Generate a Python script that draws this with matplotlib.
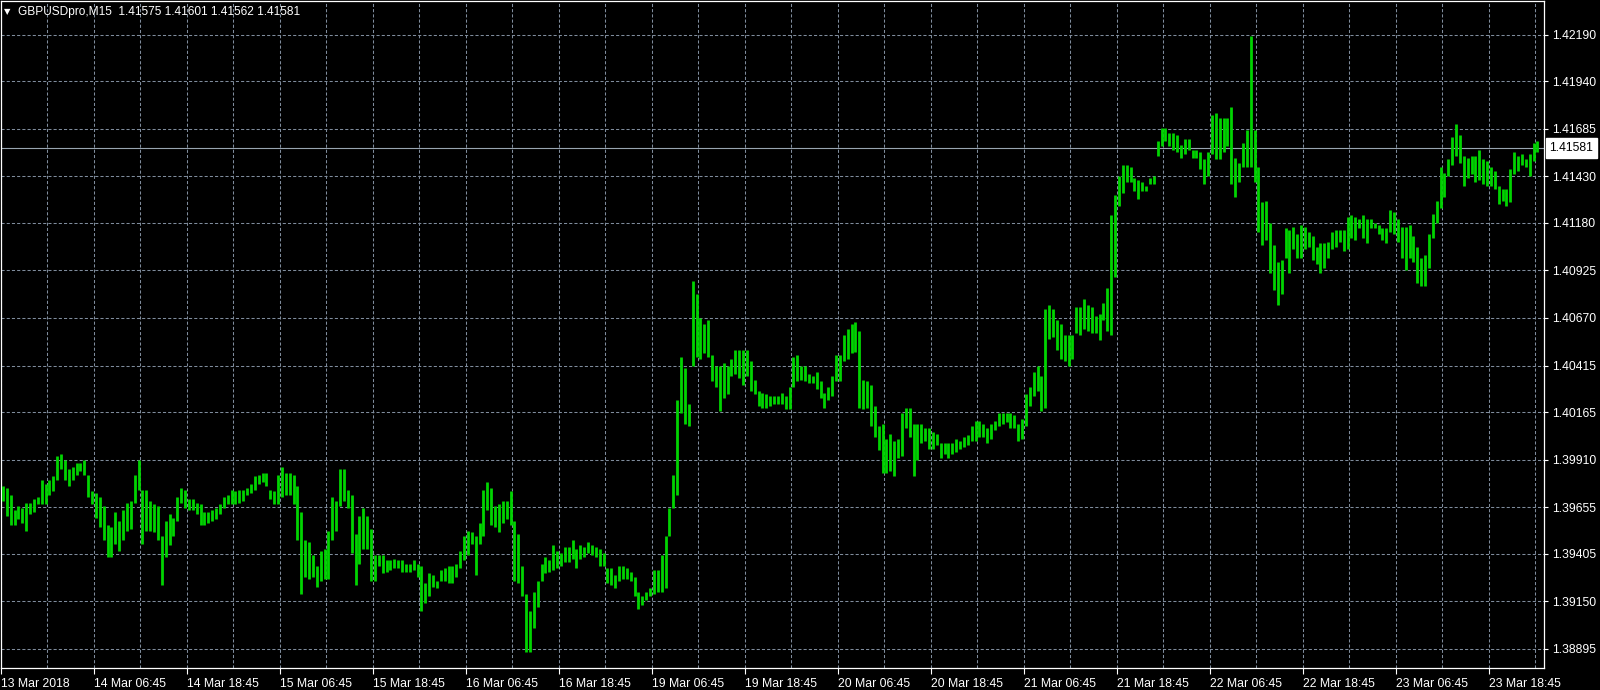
import numpy as np
import matplotlib
matplotlib.use("Agg")
import matplotlib.pyplot as plt

symbol = "GBPUSDpro,M15"
last_ohlc = [1.41575, 1.41601, 1.41562, 1.41581]
last_price = 1.41581

# 30-minute high / low (13 Mar 18:45 -> 23 Mar close)
high = [
    1.3977, 1.3976, 1.3972, 1.3964, 1.3966, 1.3965, 1.3968, 1.3968, 1.3970, 1.3971, 1.3980, 1.3978,
    1.3980, 1.3982, 1.3993, 1.3994, 1.3991, 1.3986, 1.3987, 1.3989, 1.3989, 1.3991, 1.3983, 1.3974,
    1.3973, 1.3971, 1.3966, 1.3956, 1.3955, 1.3963, 1.3958, 1.3964, 1.3968, 1.3969, 1.3983, 1.3991,
    1.3975, 1.3975, 1.3969, 1.3967, 1.3966, 1.3950, 1.3958, 1.3962, 1.3960, 1.3971, 1.3976, 1.3975,
    1.3970, 1.3970, 1.3968, 1.3967, 1.3963, 1.3963, 1.3964, 1.3965, 1.3967, 1.3971, 1.3972, 1.3975,
    1.3974, 1.3975, 1.3975, 1.3976, 1.3978, 1.3982, 1.3983, 1.3984, 1.3984, 1.3975, 1.3974, 1.3983,
    1.3987, 1.3984, 1.3984, 1.3983, 1.3977, 1.3963, 1.3948, 1.3947, 1.3940, 1.3934, 1.3942, 1.3943,
    1.3953, 1.3971, 1.3969, 1.3986, 1.3986, 1.3975, 1.3972, 1.3951, 1.3961, 1.3965, 1.3961, 1.3954,
    1.3940, 1.3940, 1.3940, 1.3937, 1.3937, 1.3938, 1.3937, 1.3937, 1.3935, 1.3935, 1.3937, 1.3935,
    1.3934, 1.3925, 1.3930, 1.3929, 1.3926, 1.3932, 1.3933, 1.3934, 1.3934, 1.3935, 1.3942, 1.3950,
    1.3953, 1.3952, 1.3950, 1.3957, 1.3975, 1.3979, 1.3976, 1.3966, 1.3967, 1.3969, 1.3969, 1.3974,
    1.3958, 1.3951, 1.3934, 1.3919, 1.3910, 1.3920, 1.3926, 1.3935, 1.3939, 1.3937, 1.3945, 1.3942,
    1.3941, 1.3944, 1.3944, 1.3948, 1.3943, 1.3945, 1.3944, 1.3947, 1.3945, 1.3944, 1.3943, 1.3941,
    1.3933, 1.3933, 1.3929, 1.3934, 1.3934, 1.3933, 1.3931, 1.3928, 1.3920, 1.3918, 1.3920, 1.3922,
    1.3932, 1.3932, 1.3940, 1.3950, 1.3965, 1.3983, 1.4023, 1.4046, 1.4040, 1.4021, 1.4087, 1.4080,
    1.4067, 1.4064, 1.4066, 1.4047, 1.4041, 1.4041, 1.4043, 1.4041, 1.4045, 1.4050, 1.4050, 1.4050,
    1.4050, 1.4044, 1.4034, 1.4028, 1.4027, 1.4026, 1.4025, 1.4025, 1.4025, 1.4027, 1.4025, 1.4030,
    1.4046, 1.4047, 1.4041, 1.4041, 1.4037, 1.4036, 1.4038, 1.4033, 1.4027, 1.4030, 1.4036, 1.4047,
    1.4047, 1.4058, 1.4061, 1.4064, 1.4065, 1.4060, 1.4034, 1.4033, 1.4031, 1.4020, 1.4009, 1.4010,
    1.4002, 1.4005, 1.4001, 1.4002, 1.4016, 1.4019, 1.4019, 1.4010, 1.4010, 1.4010, 1.4008, 1.4008,
    1.4006, 1.4005, 1.4000, 1.4000, 1.4000, 1.4000, 1.4002, 1.4001, 1.4003, 1.4004, 1.4009, 1.4012,
    1.4012, 1.4010, 1.4008, 1.4010, 1.4012, 1.4016, 1.4016, 1.4016, 1.4016, 1.4015, 1.4010, 1.4013,
    1.4026, 1.4030, 1.4038, 1.4041, 1.4036, 1.4072, 1.4074, 1.4072, 1.4066, 1.4064, 1.4058, 1.4058,
    1.4058, 1.4073, 1.4073, 1.4077, 1.4074, 1.4073, 1.4068, 1.4069, 1.4075, 1.4083, 1.4122, 1.4133,
    1.4143, 1.4149, 1.4149, 1.4148, 1.4142, 1.4141, 1.4140, 1.4138, 1.4142, 1.4143, 1.4162, 1.4169,
    1.4169, 1.4166, 1.4166, 1.4165, 1.4160, 1.4163, 1.4163, 1.4157, 1.4157, 1.4156, 1.4152, 1.4156,
    1.4176, 1.4177, 1.4174, 1.4174, 1.4174, 1.4180, 1.4153, 1.4150, 1.4161, 1.4168, 1.4218, 1.4168,
    1.4148, 1.4129, 1.4130, 1.4118, 1.4106, 1.4097, 1.4098, 1.4115, 1.4114, 1.4116, 1.4112, 1.4117,
    1.4116, 1.4113, 1.4111, 1.4105, 1.4107, 1.4107, 1.4108, 1.4113, 1.4114, 1.4114, 1.4114, 1.4121,
    1.4122, 1.4121, 1.4120, 1.4122, 1.4120, 1.4120, 1.4118, 1.4117, 1.4115, 1.4115, 1.4125, 1.4124,
    1.4120, 1.4116, 1.4116, 1.4117, 1.4111, 1.4105, 1.4099, 1.4101, 1.4112, 1.4123, 1.4130, 1.4148,
    1.4145, 1.4152, 1.4164, 1.4171, 1.4165, 1.4154, 1.4153, 1.4154, 1.4154, 1.4157, 1.4152, 1.4151,
    1.4148, 1.4146, 1.4138, 1.4136, 1.4136, 1.4147, 1.4156, 1.4154, 1.4155, 1.4152, 1.4155, 1.4161,
    1.4162,
]
low = [
    1.3969, 1.3961, 1.3956, 1.3956, 1.3959, 1.3957, 1.3953, 1.3962, 1.3963, 1.3967, 1.3967, 1.3967,
    1.3972, 1.3974, 1.3980, 1.3986, 1.3980, 1.3977, 1.3980, 1.3983, 1.3985, 1.3983, 1.3971, 1.3967,
    1.3960, 1.3955, 1.3948, 1.3939, 1.3939, 1.3946, 1.3942, 1.3948, 1.3953, 1.3954, 1.3968, 1.3975,
    1.3946, 1.3953, 1.3953, 1.3952, 1.3948, 1.3924, 1.3939, 1.3945, 1.3950, 1.3958, 1.3968, 1.3965,
    1.3964, 1.3964, 1.3962, 1.3956, 1.3956, 1.3957, 1.3958, 1.3959, 1.3962, 1.3965, 1.3967, 1.3967,
    1.3967, 1.3968, 1.3969, 1.3972, 1.3973, 1.3975, 1.3978, 1.3979, 1.3977, 1.3970, 1.3967, 1.3967,
    1.3971, 1.3972, 1.3972, 1.3967, 1.3948, 1.3919, 1.3928, 1.3927, 1.3928, 1.3923, 1.3926, 1.3927,
    1.3927, 1.3948, 1.3953, 1.3966, 1.3969, 1.3965, 1.3941, 1.3924, 1.3935, 1.3943, 1.3943, 1.3926,
    1.3926, 1.3934, 1.3930, 1.3931, 1.3932, 1.3933, 1.3933, 1.3931, 1.3931, 1.3931, 1.3932, 1.3928,
    1.3910, 1.3914, 1.3918, 1.3923, 1.3922, 1.3926, 1.3926, 1.3925, 1.3925, 1.3928, 1.3933, 1.3937,
    1.3940, 1.3946, 1.3929, 1.3946, 1.3950, 1.3964, 1.3956, 1.3955, 1.3952, 1.3957, 1.3959, 1.3956,
    1.3926, 1.3925, 1.3918, 1.3888, 1.3888, 1.3901, 1.3912, 1.3926, 1.3930, 1.3931, 1.3932, 1.3933,
    1.3934, 1.3936, 1.3936, 1.3938, 1.3933, 1.3938, 1.3939, 1.3941, 1.3940, 1.3939, 1.3934, 1.3934,
    1.3925, 1.3924, 1.3922, 1.3926, 1.3927, 1.3927, 1.3926, 1.3918, 1.3911, 1.3913, 1.3916, 1.3918,
    1.3919, 1.3920, 1.3920, 1.3922, 1.3950, 1.3965, 1.3972, 1.4016, 1.4010, 1.4009, 1.4041, 1.4046,
    1.4045, 1.4048, 1.4046, 1.4033, 1.4030, 1.4017, 1.4024, 1.4026, 1.4036, 1.4037, 1.4035, 1.4031,
    1.4036, 1.4028, 1.4026, 1.4020, 1.4019, 1.4019, 1.4020, 1.4021, 1.4021, 1.4021, 1.4018, 1.4018,
    1.4030, 1.4033, 1.4034, 1.4033, 1.4032, 1.4032, 1.4029, 1.4024, 1.4019, 1.4023, 1.4025, 1.4033,
    1.4033, 1.4044, 1.4045, 1.4048, 1.4049, 1.4019, 1.4018, 1.4019, 1.4009, 1.4003, 1.3996, 1.3984,
    1.3984, 1.3985, 1.3982, 1.3992, 1.3993, 1.4008, 1.4003, 1.3982, 1.3991, 1.4000, 1.4001, 1.3997,
    1.3997, 1.3999, 1.3992, 1.3994, 1.3992, 1.3994, 1.3995, 1.3997, 1.3998, 1.3999, 1.4001, 1.4001,
    1.4003, 1.4003, 1.4000, 1.4002, 1.4007, 1.4009, 1.4010, 1.4011, 1.4008, 1.4008, 1.4001, 1.4002,
    1.4009, 1.4020, 1.4025, 1.4028, 1.4017, 1.4019, 1.4056, 1.4057, 1.4050, 1.4045, 1.4044, 1.4041,
    1.4045, 1.4059, 1.4058, 1.4061, 1.4060, 1.4059, 1.4059, 1.4055, 1.4066, 1.4060, 1.4058, 1.4089,
    1.4127, 1.4134, 1.4140, 1.4140, 1.4135, 1.4131, 1.4135, 1.4135, 1.4139, 1.4139, 1.4154, 1.4159,
    1.4162, 1.4159, 1.4157, 1.4156, 1.4153, 1.4155, 1.4157, 1.4153, 1.4153, 1.4147, 1.4139, 1.4143,
    1.4155, 1.4152, 1.4152, 1.4156, 1.4159, 1.4139, 1.4132, 1.4140, 1.4148, 1.4148, 1.4148, 1.4140,
    1.4113, 1.4106, 1.4109, 1.4091, 1.4082, 1.4074, 1.4080, 1.4099, 1.4091, 1.4104, 1.4099, 1.4099,
    1.4104, 1.4105, 1.4098, 1.4096, 1.4091, 1.4094, 1.4099, 1.4104, 1.4105, 1.4108, 1.4103, 1.4104,
    1.4110, 1.4109, 1.4115, 1.4110, 1.4107, 1.4115, 1.4115, 1.4112, 1.4109, 1.4107, 1.4113, 1.4112,
    1.4108, 1.4099, 1.4093, 1.4099, 1.4097, 1.4086, 1.4084, 1.4084, 1.4094, 1.4110, 1.4118, 1.4126,
    1.4132, 1.4143, 1.4149, 1.4154, 1.4150, 1.4138, 1.4142, 1.4144, 1.4140, 1.4141, 1.4139, 1.4138,
    1.4138, 1.4136, 1.4128, 1.4130, 1.4127, 1.4129, 1.4144, 1.4146, 1.4149, 1.4148, 1.4143, 1.4151,
    1.4156,
]

date_labels = ["13 Mar 2018", "14 Mar 06:45", "14 Mar 18:45", "15 Mar 06:45", "15 Mar 18:45",
               "16 Mar 06:45", "16 Mar 18:45", "19 Mar 06:45", "19 Mar 18:45", "20 Mar 06:45",
               "20 Mar 18:45", "21 Mar 06:45", "21 Mar 18:45", "22 Mar 06:45", "22 Mar 18:45",
               "23 Mar 06:45", "23 Mar 18:45"]
price_ticks = [1.42190, 1.41940, 1.41685, 1.41430, 1.41180, 1.40925, 1.40670,
               1.40415, 1.40165, 1.39910, 1.39655, 1.39405, 1.39150, 1.38895]

slots_per_label = 24   # 12 hours of 30-min slots
grid_color = '#7f8c9c'
fg = 'white'
bar_color = '#00d400'
fnt = ['Liberation Sans', 'DejaVu Sans']

fig = plt.figure(figsize=(16, 6.9), dpi=100, facecolor='black')
ax = fig.add_axes([1/1600, 22/690, 1543/1600, 667/690], facecolor='black')

x = np.arange(len(high)) + 0.5
ax.vlines(x, low, high, color=bar_color, lw=2.0, zorder=3)

ax.set_xlim(0, len(high) + 1.2)
ax.set_ylim(1.38793, 1.42370)

# x axis: labels every 12h, grid every 6h
ax.set_xticks(np.arange(len(date_labels)) * slots_per_label)
ax.set_xticklabels(date_labels, ha='left', color=fg, fontsize=8.8, family=fnt)
ax.set_xticks(np.arange(slots_per_label // 2, len(high), slots_per_label), minor=True)
ax.tick_params(axis='x', which='major', length=4, width=0.8, color=fg, pad=3.5, direction='out')
ax.tick_params(axis='x', which='minor', length=0)

# y axis on the right
ax.yaxis.tick_right()
ax.set_yticks(price_ticks)
ax.set_yticklabels(['%.5f' % p for p in price_ticks], color=fg, fontsize=8.8, family=fnt)
ax.tick_params(axis='y', length=3, width=0.8, color=fg, pad=3, direction='out')

ax.grid(True, which='both', color=grid_color, lw=0.75, ls=(0, (3, 2)), zorder=1)
ax.set_axisbelow(True)
for s in ax.spines.values():
    s.set_color(fg)
    s.set_linewidth(0.9)

# last price line + label
ax.axhline(last_price, color='#98a4b0', lw=0.8, zorder=2)
ax.annotate('%.5f' % last_price, xy=(1.0, last_price), xycoords=('axes fraction', 'data'),
            xytext=(4, 0), textcoords='offset points', va='center', ha='left',
            fontsize=8.8, family=fnt, color='black',
            bbox=dict(boxstyle='square,pad=0.3', fc='white', ec='white'),
            annotation_clip=False)

# header
fig.text(4/1600, 1 - 12/690, '\u25bc', color=fg, fontsize=6, va='center', family='DejaVu Sans')
fig.text(18/1600, 1 - 12/690, symbol + '  ' + ' '.join('%.5f' % v for v in last_ohlc),
         color=fg, fontsize=8.6, va='center', family=fnt)

fig.savefig('out.png', dpi=100, facecolor='black')
